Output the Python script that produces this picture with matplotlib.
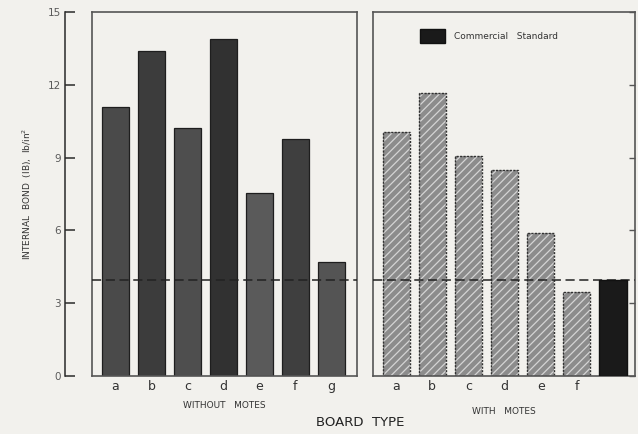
import matplotlib.pyplot as plt
from matplotlib.patches import Patch

# internal bond strength, lb/in^2
without_labels = ['a', 'b', 'c', 'd', 'e', 'f', 'g']
without_ib = [11.1, 13.4, 10.2, 13.9, 7.55, 9.75, 4.7]
without_shades = ['#4a4a4a', '#3c3c3c', '#4e4e4e', '#313131', '#5a5a5a', '#3f3f3f', '#545454']

with_labels = ['a', 'b', 'c', 'd', 'e', 'f']
with_ib = [10.05, 11.65, 9.05, 8.5, 5.9, 3.45]

standard_ib = 3.95
y_ticks = [0, 3, 6, 9, 12, 15]

paper = '#f2f1ed'
ink = '#2a2a2a'
plt.rcParams['hatch.linewidth'] = 0.9

fig = plt.figure(figsize=(6.38, 4.34), dpi=100, facecolor=paper)
bottom, height = 58 / 434, 364 / 434

ax_y = fig.add_axes([65 / 638, bottom, 0.001, height], facecolor='none')
ax1 = fig.add_axes([92 / 638, bottom, 265 / 638, height], facecolor=paper, sharey=ax_y)
ax2 = fig.add_axes([373 / 638, bottom, 262 / 638, height], facecolor=paper, sharey=ax_y)

# standalone y axis
ax_y.set_ylim(0, 15)
ax_y.set_yticks(y_ticks)
ax_y.set_xticks([])
for s in ['top', 'right', 'bottom']:
    ax_y.spines[s].set_visible(False)
ax_y.spines['left'].set_color(ink)
ax_y.spines['left'].set_linewidth(1.1)
ax_y.tick_params(axis='y', direction='in', length=7, width=1.1, color=ink,
                 labelsize=7.5, labelcolor='#5a5a5a', pad=3)
ax_y.set_ylabel('INTERNAL  BOND  (IB),  lb/in$^2$', fontsize=6.5, color='#333333', labelpad=10)

for ax in (ax1, ax2):
    for s in ax.spines.values():
        s.set_color('#555555')
        s.set_linewidth(1.2)
    ax.tick_params(axis='x', length=0, labelsize=9, labelcolor='#333333', pad=3)
    ax.tick_params(axis='y', left=False, labelleft=False)

# panel without motes
x1 = range(len(without_ib))
ax1.bar(x1, without_ib, width=0.75, color=without_shades, edgecolor='#1e1e1e', linewidth=0.9, zorder=2)
ax1.axhline(standard_ib, color='#222222', linestyle=(0, (6, 3)), linewidth=1.1, zorder=3)
ax1.set_xlim(-0.65, 6.71)
ax1.set_xticks(list(x1))
ax1.set_xticklabels(without_labels)
ax1.set_xlabel('WITHOUT   MOTES', fontsize=6.5, color='#333333', labelpad=6)

# panel with motes, plus the commercial standard board
x2 = list(range(len(with_ib)))
ax2.bar(x2, with_ib, width=0.75, color='#8c8c8c', linewidth=0, zorder=2)
ax2.bar(x2, with_ib, width=0.75, color='none', edgecolor='#d4d4d4', hatch='////', linewidth=0, zorder=2)
ax2.bar(x2, with_ib, width=0.75, color='none', edgecolor='#303030', linewidth=1.0,
        linestyle=(0, (1.5, 1)), zorder=2)
ax2.axhline(standard_ib, color='#222222', linestyle=(0, (6, 3)), linewidth=1.1, zorder=3)
ax2.bar([len(with_ib)], [standard_ib], width=0.75, color='#1a1a1a', edgecolor='#111111', zorder=4)
ax2.set_xlim(-0.64, 6.61)
ax2.set_xticks(x2)
ax2.set_xticklabels(with_labels)
ax2.set_xlabel('WITH   MOTES', fontsize=6.5, color='#333333', labelpad=10)
ax2.tick_params(axis='y', right=True, direction='in', length=4, width=1, color='#555555')

ax2.legend(handles=[Patch(facecolor='#1a1a1a', edgecolor='#111111', label='Commercial   Standard')],
           loc='upper left', bbox_to_anchor=(0.15, 0.975), frameon=False, fontsize=6.5,
           handlelength=2.7, handleheight=1.9, handletextpad=1.0, labelcolor='#333333')

ax_y.set_ylim(0, 15)
fig.text(0.565, 0.012, 'BOARD  TYPE', fontsize=9.5, color='#222222', ha='center', va='bottom')

fig.savefig('out.png', dpi=100, facecolor=paper)
